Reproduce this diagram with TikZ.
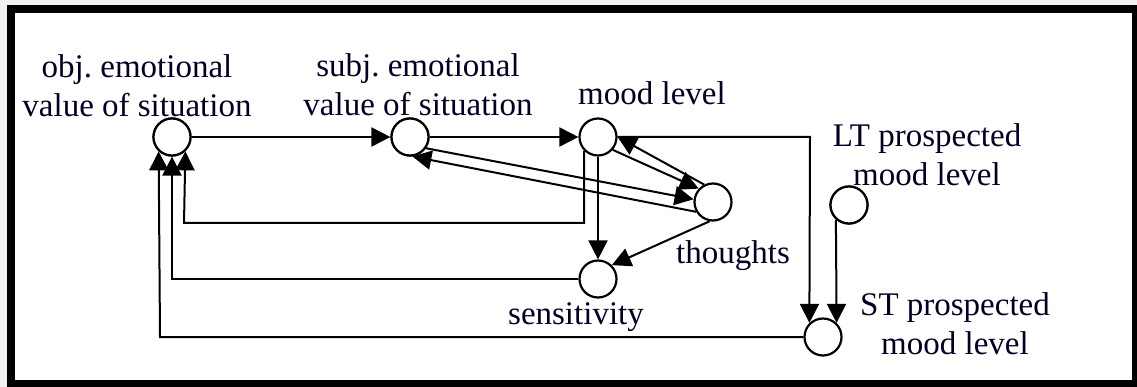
\documentclass[tikz,border=0pt]{standalone}
\usepackage{fontspec}
\setmainfont{Liberation Serif}
\usetikzlibrary{arrows.meta}
\frenchspacing
\begin{document}
\begin{tikzpicture}[x=1pt,y=-1pt,
  state/.style={circle,draw,line width=2.2pt,minimum size=37pt,inner sep=0pt,fill=white},
  lbl/.style={font=\fontsize{33}{39}\selectfont,align=center,inner sep=0pt,anchor=base,text=black!85!blue},
  con/.style={line width=2pt,-{Triangle[length=19pt,width=19pt]}},
]
\useasboundingbox (0,0) rectangle (1137,387);
\fill[gray!10] (0,0) rectangle (1137,387);
\draw[line width=8pt,fill=white] (11,9) rectangle (1136,384);

% nodes
\node[state] (obj) at (172,137) {};
\node[state] (subj) at (410,137) {};
\node[state] (mood) at (598,137) {};
\node[state] (thoughts) at (713,202) {};
\node[state] (sens) at (598,279) {};
\node[state] (lt) at (849,205) {};
\node[state] (st) at (823,337) {};

% labels (base anchor = last line's baseline)
\node[lbl] (objlbl) at (137,117) {obj. emotional\\value of situation};
\node[lbl] (subjlbl) at (418,116) {subj. emotional\\value of situation};
\node[lbl] (moodlbl) at (652,105) {mood level};
\node[lbl] (ltlbl) at (927,186) {LT prospected\\mood level};
\node[lbl] (stlbl) at (955,354) {ST prospected\\mood level};
\node[lbl] (thoughtslbl) at (733,264) {thoughts};
\node[lbl] (senslbl) at (576,324) {sensitivity};

% circles drawn above the labels
\node[state] at (obj) {};
\node[state] at (subj) {};
\node[state] at (lt) {};

% connectors
\draw[con] (obj) -- (subj);
\draw[con] (subj) -- (mood);
\draw[con] (thoughts.117) -- (mood.0);
\draw[con] (mood.-41) -- (thoughts.137);
\draw[con] (subj.-35) -- (thoughts.172);
\draw[con] (thoughts.-150) -- (subj.-83);
\draw[con] (mood.south) -- (sens.north);
\draw[con] (thoughts.260) -- (sens.45);
\draw[con] (mood.225) -- (mood.225 |- 0,223) -- (184,223) -- (obj.313);
\draw[con] (sens.west) -- (172,279) -- (obj.south);
\draw[con] (st.west) -- (160,337) -- (obj.227);
\draw[con] (mood.east) -- (810,137) -- (st.134);
\draw[con] (lt.228) -- (st.46);
\end{tikzpicture}
\end{document}
